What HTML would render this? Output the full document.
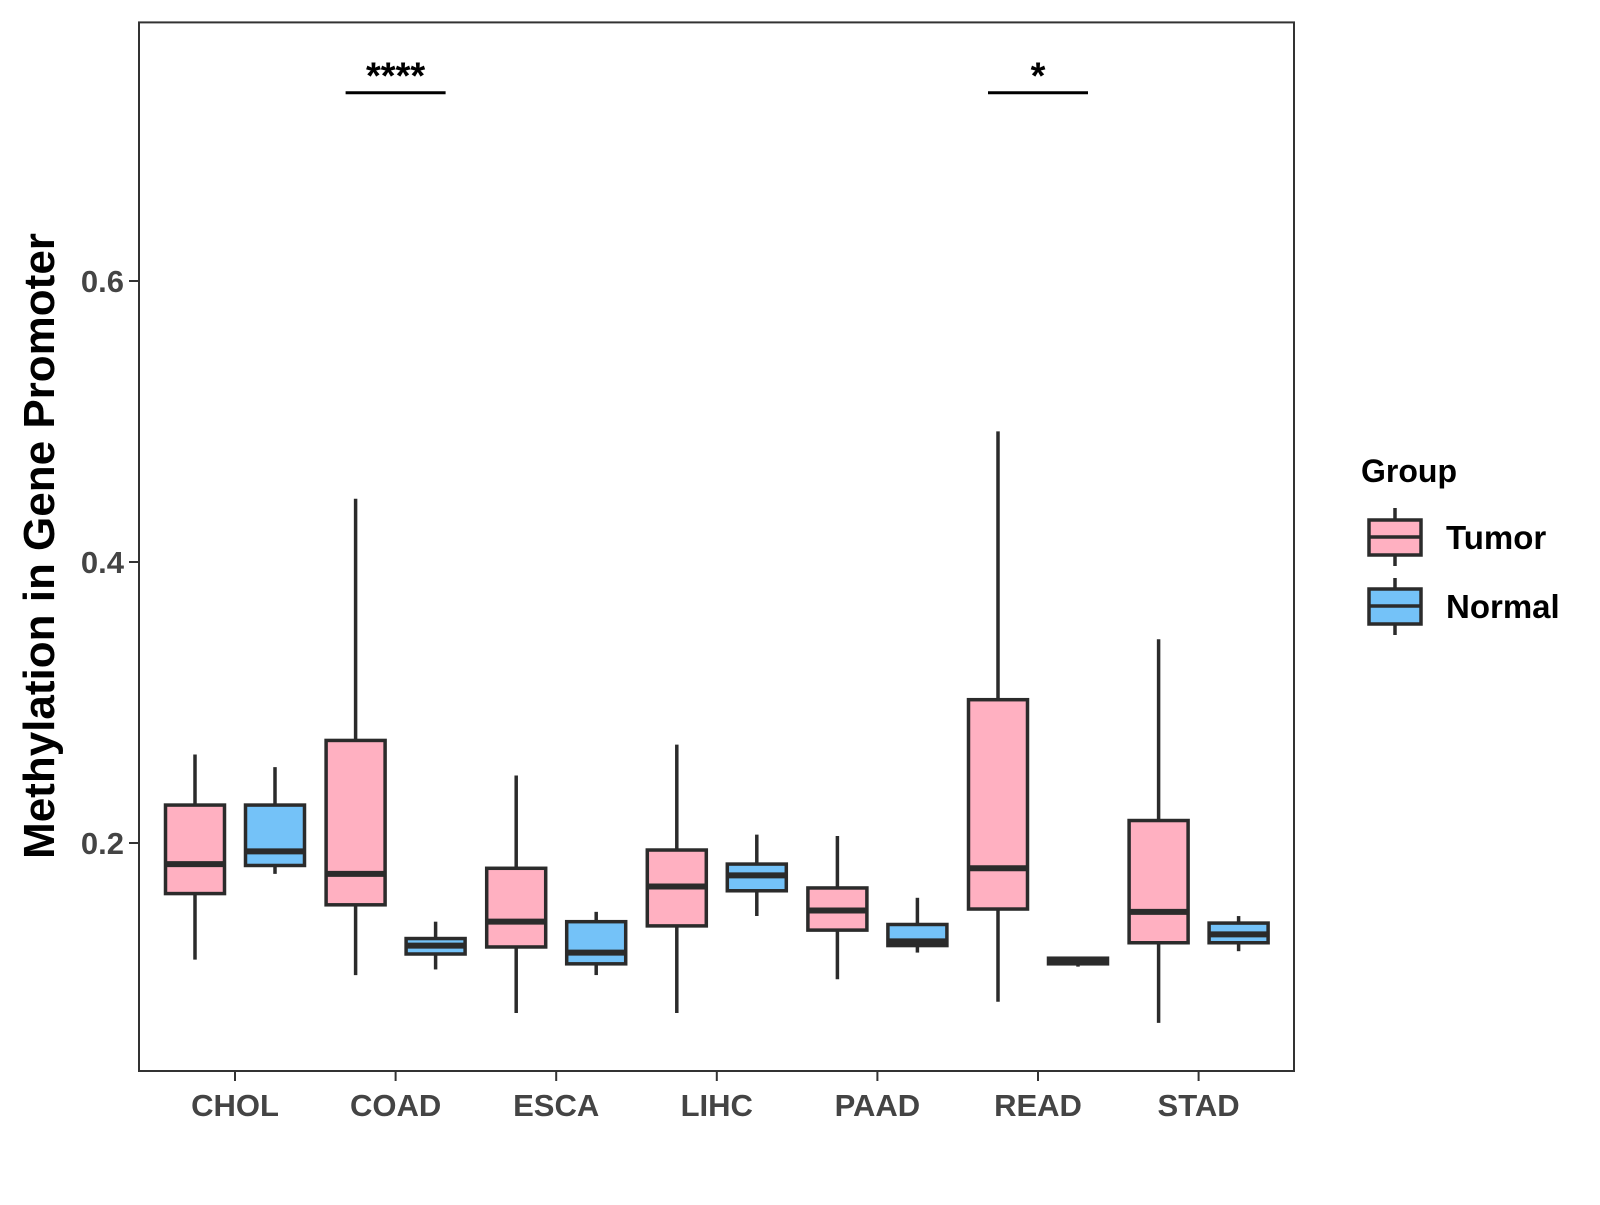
<!DOCTYPE html>
<html><head><meta charset="utf-8"><style>
body{margin:0;background:#fff}
text{font-family:"Liberation Sans",Arial,sans-serif;font-weight:bold}
</style></head><body>
<svg id="chart" width="1600" height="1200" viewBox="0 0 1600 1200">
<g id="marks"></g>
<rect x="139" y="22.4" width="1155" height="1048.6" fill="none" stroke="#333" stroke-width="2"/>
<g id="axes"></g>
<text transform="translate(54,546) rotate(-90)" text-anchor="middle" font-size="44" fill="#000">Methylation in Gene Promoter</text>
<g>
<text x="1361" y="482" font-size="32" fill="#000">Group</text>
<g>
<line x1="1395" y1="508" x2="1395" y2="566" stroke="#2b2b2b" stroke-width="3.5"/>
<rect x="1369" y="520" width="52" height="35" fill="#FFB0C1" stroke="#2b2b2b" stroke-width="3.5"/>
<line x1="1369" y1="537" x2="1421" y2="537" stroke="#2b2b2b" stroke-width="3.5"/>
<text x="1446" y="549" font-size="33" fill="#000">Tumor</text>
</g>
<g>
<line x1="1395" y1="578" x2="1395" y2="635" stroke="#2b2b2b" stroke-width="3.5"/>
<rect x="1369" y="589" width="52" height="35" fill="#74C2F8" stroke="#2b2b2b" stroke-width="3.5"/>
<line x1="1369" y1="606" x2="1421" y2="606" stroke="#2b2b2b" stroke-width="3.5"/>
<text x="1446" y="618" font-size="33" fill="#000">Normal</text>
</g>
</g>
</svg>
<script>
const categories=["CHOL","COAD","ESCA","LIHC","PAAD","READ","STAD"];
// [lower whisker, Q1, median, Q3, upper whisker]
const tumorStats=[[0.117,0.164,0.185,0.227,0.263],[0.106,0.156,0.178,0.273,0.445],[0.079,0.126,0.144,0.182,0.248],[0.079,0.141,0.169,0.195,0.270],[0.103,0.138,0.152,0.168,0.205],[0.087,0.153,0.182,0.302,0.493],[0.072,0.129,0.151,0.216,0.345]];
const normalStats=[[0.178,0.184,0.194,0.227,0.254],[0.110,0.121,0.127,0.132,0.144],[0.106,0.114,0.122,0.144,0.151],[0.148,0.166,0.177,0.185,0.206],[0.122,0.127,0.130,0.142,0.161],[0.112,0.114,0.116,0.118,0.119],[0.123,0.129,0.135,0.143,0.148]];
const yTicks=[0.2,0.4,0.6];
const sigLabels=[{cat:"COAD",label:"****"},{cat:"READ",label:"*"}];
const sigLevel=0.734;

const NS="http://www.w3.org/2000/svg";
function y(v){return 843-(v-0.2)*1405;}
function x(i){return 235+i*160.6;}
function el(tag,attrs,parent){const e=document.createElementNS(NS,tag);for(const k in attrs)e.setAttribute(k,attrs[k]);parent.appendChild(e);return e;}
const marks=document.getElementById('marks'),axes=document.getElementById('axes');
const bw=59,off=40;
function box(s,cx,fill,name){
  const g=el('g',{},marks);
  
  
  el('line',{x1:cx,x2:cx,y1:y(s[4]),y2:y(s[0]),stroke:'#2b2b2b','stroke-width':3.5},g);
  el('rect',{x:cx-bw/2,y:y(s[3]),width:bw,height:Math.max(1,y(s[1])-y(s[3])),fill:fill,stroke:'#2b2b2b','stroke-width':3.5},g);
  el('line',{x1:cx-bw/2,x2:cx+bw/2,y1:y(s[2]),y2:y(s[2]),stroke:'#2b2b2b','stroke-width':6},g);
}
categories.forEach((c,i)=>{
  box(tumorStats[i],x(i)-off,'#FFB0C1','box-tumor-'+c.toLowerCase());
  box(normalStats[i],x(i)+off,'#74C2F8','box-normal-'+c.toLowerCase());
  el('line',{x1:x(i),x2:x(i),y1:1071,y2:1081,stroke:'#333','stroke-width':2},axes);
  const t=el('text',{x:x(i),y:1116,'text-anchor':'middle','font-size':31,fill:'#444'},axes);
  
  
  t.textContent=c;
});
yTicks.forEach(v=>{
  el('line',{x1:129,x2:139,y1:y(v),y2:y(v),stroke:'#333','stroke-width':2},axes);
  const t=el('text',{x:124,y:y(v)+11,'text-anchor':'end','font-size':31,fill:'#444'},axes);
  
  
  t.textContent=v.toFixed(1);
});
sigLabels.forEach(s=>{
  const i=categories.indexOf(s.cat);
  const g=el('g',{},axes);
  
  
  el('line',{x1:x(i)-off-10,x2:x(i)+off+10,y1:y(sigLevel),y2:y(sigLevel),stroke:'#000','stroke-width':3},g);
  const t=el('text',{x:x(i),y:y(sigLevel)-4,'text-anchor':'middle','font-size':38,fill:'#000'},g);
  t.textContent=s.label;
});
</script>
</body></html>
